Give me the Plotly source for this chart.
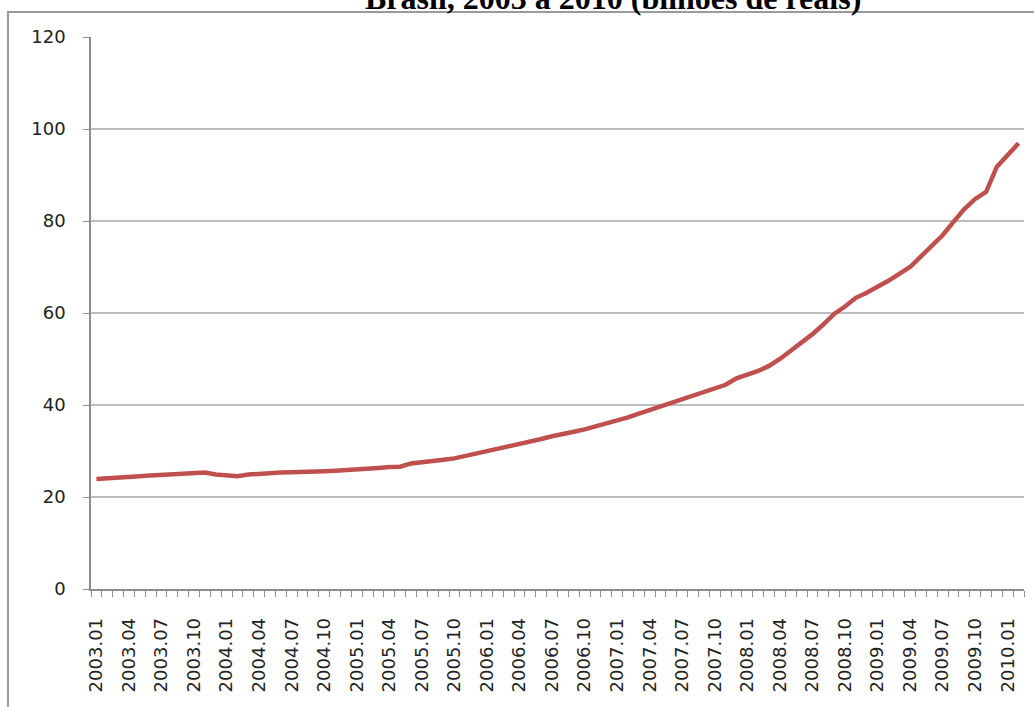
import plotly.graph_objects as go

# Monthly periods, 2003.01 through 2010.02
periods = [f"{y}.{m:02d}" for y in range(2003, 2011) for m in range(1, 13)][:86]

# Values in billions of reais
valores = [
    23.9, 24.0, 24.2, 24.4, 24.5, 24.7, 24.8, 24.9, 25.0, 25.2, 25.3, 24.9,
    24.7, 24.5, 24.9, 25.1, 25.2, 25.3, 25.4, 25.4, 25.5, 25.6, 25.7, 25.8,
    26.0, 26.1, 26.3, 26.5, 26.6, 27.3, 27.5, 27.8, 28.1, 28.4, 28.9, 29.6,
    30.0, 30.4, 30.9, 31.4, 32.0, 32.6, 33.2, 33.8, 34.2, 34.7, 35.3, 35.9,
    36.7, 37.3, 38.1, 38.9, 39.6, 40.3, 41.1, 42.0, 42.9, 43.7, 44.4, 45.8,
    46.6, 47.4, 48.5, 50.0, 51.8, 53.5, 55.4, 57.5, 59.8, 61.4, 63.3, 64.4,
    65.6, 67.0, 68.5, 70.0, 72.3, 74.5, 76.9, 79.8, 82.6, 84.8, 86.3, 91.8,
    94.2, 96.9,
]

titulo = "Brasil, 2003 a 2010 (bilhões de reais)"

idx = list(range(len(periods)))
label_idx = idx[::3]
label_txt = [periods[i] for i in label_idx]

fig = go.Figure()
fig.add_trace(go.Scatter(
    x=idx, y=valores, mode="lines",
    line=dict(color="#C0504D", width=4.5),
    hoverinfo="skip", showlegend=False,
))

tick_font = dict(family="DejaVu Sans", size=18, color="#222222")

fig.update_layout(
    width=1034, height=707,
    margin=dict(l=91, r=10, t=37, b=118),
    paper_bgcolor="white", plot_bgcolor="white",
    xaxis=dict(
        range=[-0.5, len(periods) - 0.5],
        tickmode="array", tickvals=label_idx, ticktext=label_txt,
        tickangle=-90, tickfont=tick_font,
        ticks="outside", ticklen=6, tickcolor="rgba(0,0,0,0)",
        ticklabelstandoff=14,
        showgrid=False, zeroline=False,
        showline=True, linecolor="#8c8c8c", linewidth=1.5,
        minor=dict(ticks="outside", ticklen=6, tickcolor="#8c8c8c",
                   tickwidth=1, tick0=0.5, dtick=1, showgrid=False),
    ),
    yaxis=dict(
        range=[0, 120], dtick=20,
        tickfont=tick_font,
        ticks="outside", ticklen=6, tickcolor="#8c8c8c",
        ticklabelstandoff=14,
        showgrid=True, gridcolor="#bdbdbd", gridwidth=1.5,
        zeroline=False,
        showline=True, linecolor="#8c8c8c", linewidth=1.5,
    ),
    annotations=[dict(
        text=f"<b>{titulo}</b>", xref="paper", yref="paper",
        x=0.56, y=1.070, xanchor="center", yanchor="middle",
        showarrow=False,
        font=dict(family="Liberation Serif", size=32, color="black"),
    )],
    shapes=[dict(
        type="rect", xref="paper", yref="paper",
        x0=-0.089, x1=1.2, y0=-0.5, y1=1.0453,
        line=dict(color="#9a9a9a", width=2), fillcolor="rgba(0,0,0,0)",
        layer="below",
    )],
)

fig.write_html("out.html")
